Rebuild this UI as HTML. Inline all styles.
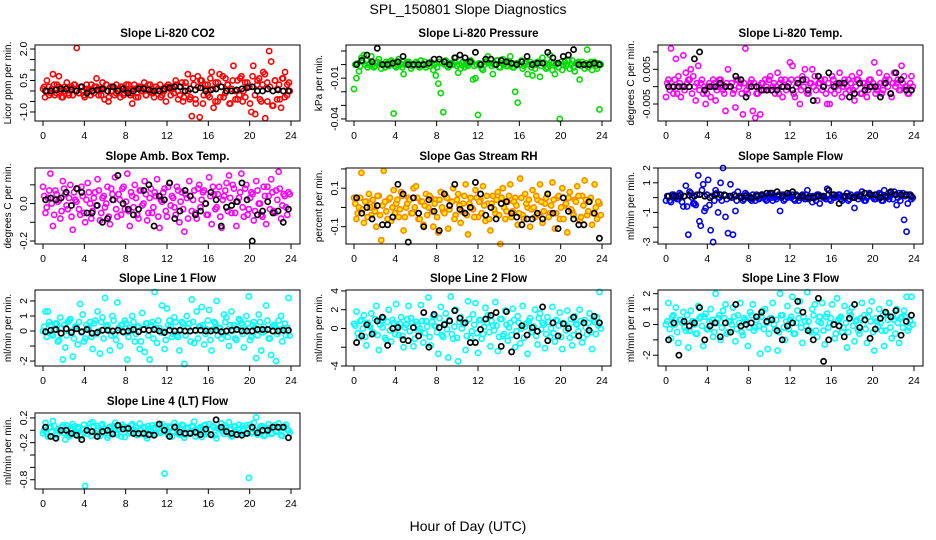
<!DOCTYPE html>
<html><head><meta charset="utf-8"><style>
html,body{margin:0;padding:0;background:#fff;}
svg{display:block;font-family:"Liberation Sans",sans-serif;}
</style></head><body>
<svg id="chart" width="936" height="540" viewBox="0 0 936 540" xmlns="http://www.w3.org/2000/svg">
<text x="468" y="14" text-anchor="middle" font-size="14">SPL_150801  Slope Diagnostics</text>
<text x="468" y="531" text-anchor="middle" font-size="14">Hour of Day (UTC)</text>
</svg>
<script>
const hourTicks = [0,4,8,12,16,20,24];
const co2Color = [0.1,-0.3,0.5,0.2,-0.1,0.8,-0.2,0.3,0.7,0.0,-0.3,0.2,0.4,-0.1,0.1,-0.2,0.3,2.05,-0.1,0.2,0.0,-0.3,0.3,0.1,-0.2,
0.0,0.2,0.6,-0.2,0.1,0.4,-0.4,0.3,-0.5,0.2,0.0,-0.2,0.3,0.1,-0.3,0.2,-0.1,0.3,0.0,-0.2,
-0.6,0.3,0.1,-0.3,0.2,0.0,0.4,-0.2,0.1,0.3,-0.1,-0.3,0.2,0.1,0.3,-0.2,0.0,-0.5,0.2,0.1,
0.2,-0.1,0.3,0.0,-0.2,0.4,-0.3,0.2,0.8,-0.4,-1.2,0.3,-0.6,0.7,-1.25,0.5,-0.2,0.1,0.3,-0.3,
0.9,-0.8,0.4,-0.5,0.8,0.2,-0.3,0.6,0.3,-0.6,0.1,1.2,-0.4,0.5,-0.2,0.7,0.0,-0.3,0.4,0.2,
-1.0,1.2,-1.1,0.3,0.6,-0.5,0.9,-1.3,0.4,1.9,1.4,-0.7,0.5,-0.4,0.3,-0.8,0.6,0.9,-0.2,0.4];
const co2Bulk = [0.2,0.0,-0.2,0.1,0.3,-0.1,0.2,-0.3,0.0,0.1,-0.2,0.2,0.3,0.0,-0.1,0.2,-0.2,0.1,0.0,0.3,
-0.1,0.2,0.0,-0.2,0.1,0.3,-0.3,0.0,0.2,-0.1,0.1,0.2,-0.2,0.0,0.3,-0.1,0.1,-0.3,0.2,0.0,
0.1,-0.2,0.3,0.0,-0.1,0.2,0.1,-0.3,0.0,0.2,0.3,-0.2,0.1,0.5,-0.4,0.2,-0.5,0.4,0.0,-0.3,
0.6,-0.4,0.2,0.5,-0.6,0.3,-0.2,0.6,0.1,-0.5,0.4,-0.3,0.7,-0.1,0.3,-0.6,0.5,0.0,-0.4,0.6,
-0.5,0.4,0.2,-0.6,0.7,-0.2,0.5,-0.4,0.3,0.8,-0.5,0.2,-0.7,0.5,0.1,-0.4,0.6,-0.3,0.3,0.0];
const co2Black = [0,0,0.05,0.1,0.1,0.05,0,0.2,-0.1,0,0.05,0.1,0,0.2,0,0.1,-0.1,0,0.1,0.1,0.05,0,0,0.1,0.15,0.2,0.2,0,0.1,0.05,0.15,0,0.05,0.1,0.2,0,0,0.05,0.1,0.15,0.2,0,0,0.1,0,0.05,0,0];
const presColor = [-0.018,-0.01,-0.005,0.005,0.007,0.003,0,0.006,-0.002,0.001,0.004,-0.003,0,0.002,-0.001,0.003,-0.036,-0.002,0.004,0,-0.007,0.001,0.002,-0.003,0,
0.002,-0.001,0.003,0,-0.002,0.001,0.002,-0.004,-0.008,-0.014,-0.021,-0.035,0.003,-0.002,0.001,0,0.005,-0.006,-0.003,0.002,0,-0.001,0.003,-0.011,-0.01,
-0.037,0,-0.004,0.002,0.006,0.001,-0.007,0,0.003,-0.002,0.004,0.001,-0.001,0.006,-0.002,-0.02,-0.028,0,-0.003,0.001,-0.007,0.002,-0.008,-0.003,0.002,
-0.009,0.005,0.001,-0.002,0.007,-0.004,-0.007,0.001,-0.04,-0.004,0.002,0,-0.003,0.003,-0.005,0.001,-0.011,0.002,-0.003,0.011,0.001,-0.004,0.002,-0.003,-0.033];
const presBulk = [0,0.001,-0.001,0.002,0,-0.002,0.001,0,-0.001,0.002,0.001,0,-0.002,0.001,0,0.002,-0.001,0,0.001,-0.002,
0,0.002,0.001,-0.001,0,0.001,-0.002,0,0.002,0,-0.001,0.001,0,-0.002,0.002,0.001,0,-0.001,0.001,0,
0.002,-0.001,0,0.001,-0.002,0,0.001,0.002,-0.001,0,0.001,-0.003,0,0.002,0.001,-0.001,0,0.003,-0.002,0.001,
0,-0.001,0.002,0,-0.002,0.001,0,0.003,-0.001,0.002,0,-0.002,0.001,0,0.002,-0.001,0.001,-0.003,0,0.002,
0.001,0,-0.002,0.002,0,-0.001,0.003,0,-0.002,0.001,0.002,-0.001,0,0.001,-0.002,0.002,0,-0.001,0.001,0];
const presBlack = [0,0.003,0.007,0.002,0.012,0,0,0.001,0.002,0.006,0,0,0,0,0.001,0.004,0.004,0.002,0,0.005,0.007,0.005,0.002,0.009,0,0.004,0.004,0,0.003,0.002,0.001,0,0.002,0.006,0,0.001,0.001,0.009,0.005,0.001,0.006,0.007,0.011,0,0,0,0.001,0];
const tempColor = [-0.003,0.002,0.011,-0.002,0.008,0.003,-0.003,0.009,0.004,0.002,0.005,0.003,-0.004,0.006,0.001,-0.002,-0.005,0,-0.003,0.002,-0.004,0,0.002,-0.001,-0.007,
0.005,0,-0.002,-0.006,0.002,0.001,-0.008,0.011,-0.002,0.001,-0.007,-0.009,-0.002,-0.008,0.001,0.002,-0.001,0.003,0,-0.002,0.004,0.001,-0.003,0.002,0,
0.007,0.006,-0.003,0.002,-0.005,0.003,0.005,-0.002,0.001,0.005,0.003,-0.004,0.001,-0.001,0.002,-0.005,-0.005,0.003,-0.002,0.001,0.004,-0.003,0.002,0,-0.001,
0.003,-0.004,0.002,0.004,-0.002,0.001,-0.003,0.002,0,0.007,-0.001,0.004,-0.002,0.001,0.003,0.002,-0.003,0.004,0.001,-0.001,0.006,0.003,0,-0.002,0.003];
const tempBulk = [0.001,-0.001,0,0.002,-0.002,0.001,0,-0.001,0.001,0.002,-0.002,0,0.001,-0.001,0.002,0,-0.002,0.001,0,0.001,
-0.001,0.002,0,-0.002,0.001,0,0.001,-0.001,0.002,0,-0.002,0.001,-0.001,0,0.002,0.001,-0.002,0,0.001,-0.001,
0,0.002,-0.001,0.001,0,-0.002,0.002,0,-0.001,0.001,0.002,-0.002,0,0.001,-0.001,0,0.002,-0.002,0.001,0,
-0.001,0.001,0.002,0,-0.002,0.001,-0.001,0.002,0,-0.001,0.001,0,-0.002,0.002,0.001,-0.001,0,0.002,-0.002,0.001,
0,-0.001,0.002,0.001,-0.002,0,0.001,-0.001,0.002,0,-0.002,0.001,0,0.002,-0.001,0.001,0,-0.002,0.001,0];
const tempBlack = [0,0,0,0,0,0.008,0.01,-0.001,0,0,0.001,0,0,0.003,0.002,-0.003,0,0,-0.001,-0.001,-0.001,-0.001,0,0,-0.001,0.001,0.002,-0.001,-0.004,0.003,0,0.004,0,0.001,0.001,-0.003,-0.002,0.001,-0.001,0,0,-0.003,0.001,-0.002,0.004,0.002,-0.001,-0.001];
const ambColor = [0.09,-0.05,0.03,0.16,-0.12,0.07,0.01,-0.08,0.12,0.05,-0.03,0.1,-0.14,0.02,0.08,-0.06,0.04,-0.1,0.11,0.0,-0.04,0.06,0.13,-0.09,0.03,
-0.02,0.09,-0.11,0.05,0.14,-0.07,0.02,0.08,-0.03,0.16,-0.12,0.04,0.1,-0.06,0.07,-0.01,0.12,-0.09,0.03,-0.05,0.06,0.13,-0.13,0.01,0.08,
-0.07,0.11,0.04,-0.02,0.09,-0.1,0.06,-0.15,0.03,0.12,-0.04,0.07,-0.08,0.1,0.02,0.07,-0.06,0.14,-0.11,0.05,-0.02,0.09,-0.13,0.04,0.11,
0.15,-0.05,0.08,-0.12,0.03,0.16,-0.07,0.1,-0.03,0.06,-0.09,0.12,0.0,-0.06,0.09,-0.11,0.04,0.13,-0.04,0.07,0.17,-0.08,0.05,-0.02,0.06];
const ambBulk = [0.04,-0.02,0.07,0.0,-0.06,0.05,0.02,-0.04,0.08,-0.01,0.03,-0.07,0.06,0.01,-0.03,0.09,-0.05,0.02,0.06,-0.08,
0.03,-0.01,0.07,-0.05,0.04,0.0,-0.07,0.08,0.02,-0.03,0.05,-0.06,0.09,0.01,-0.04,0.06,-0.02,0.03,-0.08,0.07,
0.0,0.05,-0.05,0.08,-0.02,0.04,-0.07,0.02,0.06,-0.04,0.09,-0.01,0.03,-0.06,0.07,0.01,-0.03,0.05,-0.08,0.04,
0.02,-0.05,0.08,-0.02,0.06,0.0,-0.06,0.04,0.09,-0.03,0.05,-0.07,0.02,0.07,-0.04,0.03,0.1,-0.05,0.01,0.06,
-0.02,0.08,-0.06,0.03,0.05,-0.04,0.07,0.0,-0.07,0.04,0.09,-0.03,0.06,-0.05,0.02,0.08,-0.01,0.04,-0.06,0.05];
const ambBlack = [0.02,0.03,0.02,0.03,0.06,-0.01,0.08,0.06,-0.05,-0.05,-0.01,-0.1,-0.08,0.02,0.15,0,-0.03,-0.06,-0.03,0.07,0.1,-0.12,0.04,0.02,0.11,-0.08,-0.04,0.07,0.04,-0.06,-0.04,0.0,0.06,0.02,-0.12,-0.02,-0.01,0.01,0.11,0.02,-0.2,-0.06,-0.04,0.01,-0.05,-0.04,-0.1,-0.03];
const rhColor = [0.05,-0.06,0.0,0.18,-0.08,0.03,0.07,-0.04,0.01,-0.1,0.06,-0.17,0.19,-0.02,0.04,-0.07,0.09,0.02,-0.05,0.08,-0.12,0.0,0.05,-0.03,0.1,
0.11,-0.06,0.03,-0.09,0.07,0.0,0.05,-0.1,0.04,-0.13,0.08,-0.02,0.06,-0.11,0.03,0.1,-0.04,0.07,-0.08,0.02,0.12,-0.14,0.05,-0.01,0.09,
-0.05,0.04,0.11,-0.07,0.02,-0.12,0.06,-0.03,0.08,-0.19,0.1,-0.06,0.03,0.12,-0.02,0.05,-0.09,0.15,-0.04,0.07,0.0,-0.1,0.09,-0.05,0.04,
0.12,-0.08,0.02,0.07,-0.03,0.13,-0.11,0.05,-0.06,0.1,0.01,-0.13,0.08,-0.02,0.04,0.11,-0.07,0.06,0.14,-0.04,0.03,-0.09,0.12,-0.06,0.02];
const rhBulk = [0.02,-0.03,0.05,-0.01,0.03,-0.05,0.0,0.04,-0.02,0.06,-0.04,0.01,0.03,-0.06,0.05,0.0,-0.03,0.04,-0.01,0.06,
-0.05,0.02,0.04,-0.03,0.0,0.05,-0.06,0.03,0.01,-0.04,0.06,-0.02,0.02,-0.05,0.04,0.0,-0.03,0.05,-0.01,0.03,
-0.06,0.04,0.01,-0.02,0.06,-0.04,0.02,0.0,-0.05,0.05,0.03,-0.03,0.01,0.06,-0.06,0.02,-0.01,0.04,-0.04,0.05,
0.0,-0.02,0.06,-0.05,0.03,0.01,-0.03,0.05,-0.06,0.02,0.04,-0.01,0.0,0.06,-0.04,0.03,-0.02,0.05,-0.05,0.01,
0.04,-0.03,0.06,0.0,-0.06,0.02,0.05,-0.01,-0.04,0.03,0.06,-0.05,0.01,0.04,-0.02,0.05,-0.03,0.0,0.03,-0.04];
const rhBlack = [0.05,-0.03,0.0,-0.06,0.01,-0.09,-0.09,-0.05,0.12,0.07,-0.18,0.05,-0.03,-0.1,0.04,-0.02,-0.12,0.07,0.01,0.12,-0.01,-0.03,0.0,0.13,0.07,-0.04,0.0,-0.06,0.02,0.03,-0.03,-0.05,-0.09,-0.06,-0.06,-0.03,-0.06,0.07,-0.03,-0.11,0.05,-0.02,-0.06,-0.09,-0.09,0.03,-0.03,-0.16];
const sampColor = [-0.2,0.1,-0.3,0.2,0,-0.1,0.2,-0.6,0.8,-2.5,0.3,-0.4,-0.5,1.5,-1.9,0.9,-0.7,1.2,-2.2,-3.0,0.5,-1.0,1.0,2.0,-1.3,-2.4,0.9,-2.5,-0.9,0.4,
0.1,-0.2,0.3,0,-0.1,0.2,-0.2,0.1,0,0.2,-0.1,0.1,0.3,-0.2,0,0.1,-0.9,0.2,-0.1,0,
0.1,0.2,-0.2,0.1,0,0.2,-0.1,0.5,0.1,-0.3,0,0.2,-0.4,0.1,0,0.6,-0.1,0.2,0,0.1,
0.2,-0.2,0.1,0.3,-0.1,0,-0.7,0.2,0.1,0.4,-0.2,0,0.3,0.1,-0.1,0.2,0.3,-0.2,0.5,0,
-0.1,0.2,0.4,-0.5,0.3,0.1,-1.5,-2.3,0.2,-0.1];
const sampBulk = [0.1,-0.2,0.2,0.0,-0.1,0.3,-0.3,0.1,-0.6,0.4,0.0,-0.4,0.2,-1.6,0.5,-0.9,0.2,-0.5,0.1,-0.2,
0.3,0.0,-0.2,0.2,-0.1,0.1,0.0,0.2,-0.2,0.1,0.0,-0.1,0.2,0.1,-0.2,0.0,0.2,-0.1,0.1,0.0,
-0.2,0.2,0.0,0.1,-0.1,0.2,0.0,-0.2,0.1,0.2,0.0,-0.1,0.2,-0.2,0.1,0.0,0.2,-0.1,0.0,0.1,
-0.2,0.2,0.1,0.0,-0.1,0.2,-0.2,0.0,0.1,0.2,-0.1,0.0,0.1,-0.2,0.2,0.0,0.1,-0.1,0.2,0.0,
-0.2,0.1,0.2,0.0,-0.1,0.1,0.2,-0.2,0.0,0.1,0.3,-0.1,0.2,0.0,-0.2,0.3,0.1,-0.4,0.2,0.0];
const sampBlack = [0.1,0.1,0.1,0.1,0.15,0.1,0.2,0.1,0.0,0.2,0.2,0.15,0.1,0.1,0.0,0.1,0.0,0.1,0.2,0.3,0.3,0.4,0.1,0.3,0.4,0.1,0.1,0.0,0.0,0.1,0.1,0.5,0.2,-0.4,0.1,0.1,0.0,0.1,0.3,0.2,0.2,0.0,0.1,0.4,0.2,0.2,0.2,0.1];
const l1Color = [0.0,1.3,1.3,0.4,-0.3,0.5,-0.7,0.9,-1.9,-1.1,0.6,0.8,-1.7,0.3,-0.9,1.8,1.1,-0.5,0.2,0.6,
-1.2,0.7,1.3,-1.5,0.9,2.2,0.4,-1.3,1.0,-0.2,1.9,-1.0,0.4,0.7,-1.9,0.2,1.0,-0.7,0.3,-1.2,
1.2,-1.4,0.5,-1.9,0.6,2.6,-0.8,0.2,1.7,-1.2,1.5,0.7,-0.4,0.9,-0.3,-1.3,0.6,-2.2,1.0,0.5,
2.1,-0.8,1.3,0.3,1.6,-0.9,0.1,1.4,-1.3,0.6,2.0,0.2,-0.5,1.1,0.9,-1.0,1.3,0.4,-0.6,0.8,
0.5,-1.1,1.0,2.3,-0.4,0.6,-1.8,1.1,-1.3,0.3,1.7,-0.5,-1.6,0.4,-2.0,0.7,1.0,0.2,-0.3,2.2];
const l1Bulk = [0.3,-0.4,0.6,-0.2,0.1,0.5,-0.6,0.2,0.4,-0.3,0.7,0.0,-0.5,0.3,0.6,-0.1,-0.7,0.4,0.2,-0.4,
0.5,-0.2,0.0,0.6,-0.5,0.3,0.1,-0.3,0.7,-0.6,0.2,0.4,-0.1,0.5,-0.4,0.0,0.6,-0.2,0.3,-0.7,
0.1,0.5,-0.3,0.4,-0.5,0.2,0.7,-0.1,0.0,-0.6,0.4,0.3,-0.2,0.6,-0.4,0.1,0.5,-0.3,0.2,-0.7,
0.6,0.0,-0.5,0.3,0.4,-0.2,0.7,-0.6,0.1,0.5,-0.3,0.2,-0.1,0.6,-0.4,0.4,0.0,-0.5,0.3,0.7,
-0.2,0.1,0.5,-0.6,0.4,0.2,-0.3,0.6,-0.1,0.0,0.7,-0.5,0.3,0.4,-0.2,0.1,-0.7,0.5,0.2,-0.3];
const l1Black = [-0.05,0.05,0.1,-0.15,0.15,-0.1,0.15,-0.05,0.1,-0.15,-0.1,0.05,0.05,0.0,0.05,-0.05,0.0,0.1,-0.05,0.1,0.05,0.1,0.0,-0.1,0.05,0.0,0.05,0.0,0.0,0.05,0.05,0.0,0.0,0.05,-0.05,0.0,0.05,0.1,0.0,0.0,0.0,0.1,0.1,0.1,0.0,0.0,0.05,0.05];
const l2Color = [0.5,1.8,-1.0,0.9,1.4,-1.8,0.3,1.6,-0.5,2.4,-2.3,0.8,1.1,-1.2,2.0,-1.4,0.6,2.6,-0.7,1.2,
-2.0,0.4,2.4,1.1,-1.9,0.7,-0.3,2.5,-1.5,0.8,3.3,-1.8,1.3,0.2,-2.7,2.3,-0.9,1.6,-3.1,3.4,
-1.1,2.0,-3.5,1.2,0.5,-2.3,2.9,-1.0,1.5,2.7,-2.6,0.9,-0.6,2.2,1.4,-1.9,0.3,2.8,-2.4,1.0,
-0.8,1.9,-1.3,0.6,2.1,-2.0,1.3,-1.6,2.4,0.2,-2.7,1.1,-0.4,2.0,-1.7,1.6,0.6,-2.1,1.2,-0.9,
2.3,-1.4,0.8,1.7,-2.2,0.5,1.9,-1.0,-1.8,1.3,0.4,2.0,-1.5,0.9,-0.6,1.6,-2.2,0.7,1.2,3.9];
const l2Bulk = [0.3,-0.5,0.8,0.0,-0.9,0.6,0.2,-0.4,1.0,-0.7,0.4,0.1,-1.0,0.7,-0.2,0.9,-0.6,0.3,0.5,-0.8,
0.1,1.0,-0.3,0.6,-1.1,0.4,0.0,0.8,-0.5,0.2,-0.9,0.7,0.3,-0.4,1.1,-0.7,0.5,-0.1,0.9,-0.6,
0.2,-1.0,0.7,0.0,0.5,-0.8,1.0,-0.3,0.4,-0.5,0.9,-1.1,0.2,0.6,-0.4,0.8,-0.2,0.3,-0.9,1.0,
-0.6,0.4,0.1,-0.7,0.9,-0.3,0.6,0.0,-1.0,0.5,0.8,-0.4,0.2,-0.8,1.1,-0.1,0.4,-0.6,0.7,0.0,
-0.5,0.9,0.3,-0.9,0.6,-0.2,0.2,1.0,-0.7,0.5,-0.3,0.8,-1.0,0.1,0.6,-0.4,0.9,-0.6,0.3,0.0];
const l2Black = [-1.5,-0.8,0.4,-0.6,0.8,1.2,-1.8,0.0,0.1,-1.2,-1.3,0.1,-0.8,1.7,-2.0,1.5,0.1,0.4,0.8,1.9,1.1,0.6,-1.5,-1.5,-0.1,1.0,1.4,1.7,-1.9,1.8,-2.5,-0.8,0.3,-0.7,0.1,-0.3,2.3,-1.3,0.6,-0.8,0.5,0.0,1.2,-0.8,0.6,-0.2,1.3,0.6];
const l3Color = [0.0,1.4,-0.9,0.6,1.1,-1.2,0.3,0.8,-0.4,-1.5,0.9,0.2,-0.6,1.2,0.5,-1.4,0.7,-0.3,1.0,-0.8,
2.0,0.4,-1.0,0.9,1.3,-0.5,0.2,1.1,-1.1,0.6,1.4,-0.7,0.3,-1.4,0.8,1.3,-0.2,0.5,-1.9,0.9,
1.0,-1.6,0.4,1.4,-0.3,-1.7,2.0,0.6,-1.0,1.2,0.3,1.8,-0.6,0.9,1.5,-1.2,0.2,2.1,-0.4,1.0,
1.3,-0.8,0.5,1.4,-1.3,0.7,0.1,1.3,-0.9,1.7,0.4,-0.5,1.2,-1.5,0.8,1.1,-1.1,0.3,-0.6,1.4,
0.6,-1.2,0.9,1.5,-1.7,0.2,1.0,-0.4,-1.4,0.7,1.4,-0.9,0.3,1.0,-1.2,0.5,0.9,1.8,-0.2,1.8];
const l3Bulk = [0.2,-0.3,0.5,0.0,-0.5,0.3,0.1,-0.2,0.6,-0.4,0.2,0.0,-0.6,0.4,-0.1,0.5,-0.3,0.2,0.3,-0.5,
0.1,0.6,-0.2,0.4,-0.6,0.2,0.0,0.5,-0.3,0.1,-0.5,0.4,0.2,-0.2,0.6,-0.4,0.3,-0.1,0.5,-0.3,
0.1,-0.6,0.4,0.0,0.3,-0.5,0.6,-0.2,0.2,-0.3,0.5,-0.6,0.1,0.4,-0.2,0.5,-0.1,0.2,-0.5,0.6,
-0.4,0.2,0.1,-0.4,0.5,-0.2,0.4,0.0,-0.6,0.3,0.5,-0.2,0.1,-0.5,0.6,-0.1,0.2,-0.4,0.4,0.0,
-0.3,0.5,0.2,-0.5,0.4,-0.1,0.1,0.6,-0.4,0.3,-0.2,0.5,-0.6,0.1,0.4,-0.2,0.5,-0.4,0.2,0.0];
const l3Black = [-1.0,0.1,-2.0,0.2,-0.1,0.1,1.1,-1.0,-0.1,0.1,-0.8,0.1,-0.5,1.3,-0.1,0.0,0.1,0.5,0.8,0.2,0.3,-0.4,-1.0,-0.1,0.1,1.5,0.8,-0.4,-1.0,1.7,-2.4,-1.0,0.0,-0.1,-0.8,0.4,1.3,-0.2,0.3,-0.9,-0.3,0.4,0.8,0.5,0.9,-0.7,0.2,0.6];
const l4Color = [-0.05,0.12,-0.1,0.05,0.15,-0.12,0.0,-0.02,0.08,-0.15,0.03,-0.08,0.1,-0.03,0.05,-0.1,0.02,-0.9,-0.06,0.11,0.13,-0.04,0.07,-0.09,0.1,
0.02,-0.12,0.06,-0.04,0.12,-0.07,0.03,0.09,-0.11,0.05,-0.02,0.1,0.0,-0.08,0.11,-0.05,0.04,-0.13,0.02,0.08,-0.06,0.09,-0.02,0.1,-0.7,
-0.04,0.06,-0.1,0.12,0.0,-0.07,0.09,-0.12,0.04,-0.03,0.07,0.14,-0.05,0.03,-0.11,0.08,-0.02,0.1,-0.08,0.05,-0.13,0.02,0.11,-0.06,0.04,
0.13,-0.1,0.06,-0.03,0.09,-0.07,0.02,0.08,-0.77,-0.05,0.12,0.21,-0.04,0.07,-0.09,0.03,0.1,-0.06,0.05,-0.02,0.11,-0.08,0.04,0.09,0.0];
const l4Bulk = [0.0,-0.06,0.04,-0.02,0.07,-0.08,0.02,0.05,-0.04,0.08,-0.1,0.01,0.06,-0.05,0.03,-0.07,0.09,-0.01,0.04,-0.09,
0.06,0.0,-0.06,0.08,-0.03,0.02,-0.08,0.05,0.07,-0.04,0.01,-0.1,0.06,0.03,-0.05,0.08,-0.02,0.04,-0.07,0.0,
0.05,-0.09,0.07,-0.01,0.03,-0.06,0.09,-0.04,0.02,0.06,-0.08,0.04,-0.02,0.07,-0.05,0.01,0.08,-0.07,0.03,-0.03,
0.06,-0.1,0.02,0.05,-0.04,0.09,-0.06,0.0,0.07,-0.08,0.03,0.04,-0.02,0.08,-0.05,0.01,-0.09,0.06,0.02,-0.04,
0.07,-0.06,0.03,0.09,-0.03,0.0,-0.07,0.05,0.06,-0.08,0.02,0.04,-0.05,0.08,-0.01,0.03,-0.09,0.06,0.01,-0.04];
const l4Black = [0.05,-0.1,-0.13,0.0,0.0,-0.05,-0.08,-0.15,0.0,-0.02,-0.1,-0.02,0.0,-0.06,0.08,0.02,0.03,-0.05,-0.05,-0.05,-0.07,-0.08,0.1,0.0,-0.1,0.05,-0.03,-0.05,-0.05,-0.03,-0.07,0.02,-0.07,0.17,0.05,-0.02,-0.05,-0.07,-0.08,-0.05,0.05,-0.04,0.0,0.0,0.05,0.05,0.05,-0.12];

const NS = "http://www.w3.org/2000/svg";
const svg = document.getElementById('chart');
function mk(tag, attrs, parent){ const e=document.createElementNS(NS,tag); for(const k in attrs) e.setAttribute(k,attrs[k]); (parent||svg).appendChild(e); return e; }

const cols = [35, 346, 658];
const rows = [45, 168, 290, 413];
const W = 265, H = 76;
const panels = [
 {key:'co2', title:'Slope Li-820 CO2', ylab:'Licor ppm per min.', c:0,r:0, yMin:-1.43,yMax:2.19, ticks:[-1,-0.5,0,0.5,1,1.5,2], labels:{'2':'2.0','0.5':'0.5','-1':'-1.0'}, color:'#ff0000', fill:'none', data:co2Color, bulk:co2Bulk, black:co2Black},
 {key:'pressure', title:'Slope Li-820 Pressure', ylab:'kPa per min.', c:1,r:0, yMin:-0.0415,yMax:0.0144, ticks:[0.01,0,-0.01,-0.02,-0.03,-0.04], labels:{'-0.01':'-0.01','-0.04':'-0.04'}, color:'#00dd00', fill:'none', data:presColor, bulk:presBulk, black:presBlack},
 {key:'temp', title:'Slope Li-820 Temp.', ylab:'degrees C per min.', c:2,r:0, yMin:-0.0099,yMax:0.012, ticks:[0.01,0.005,0,-0.005], labels:{'0.005':'0.005','-0.005':'-0.005'}, color:'#ff00ff', fill:'none', data:tempColor, bulk:tempBulk, black:tempBlack},
 {key:'ambbox', title:'Slope Amb. Box Temp.', ylab:'degrees C per min.', c:0,r:1, yMin:-0.216,yMax:0.19, ticks:[0.1,0,-0.1,-0.2], labels:{'0':'0.0','-0.2':'-0.2'}, color:'#ff00ff', fill:'none', data:ambColor, bulk:ambBulk, black:ambBlack},
 {key:'rh', title:'Slope Gas Stream RH', ylab:'percent per min.', c:1,r:1, yMin:-0.19,yMax:0.205, ticks:[0.2,0.1,0,-0.1], labels:{'0.1':'0.1','-0.1':'-0.1'}, color:'#ff8800', fill:'#ffee00', data:rhColor, bulk:rhBulk, black:rhBlack},
 {key:'sampleflow', title:'Slope Sample Flow', ylab:'ml/min per min.', c:2,r:1, yMin:-3.13,yMax:2.0, ticks:[2,1,0,-1,-2,-3], labels:{'2':'2','1':'1','-1':'-1','-3':'-3'}, color:'#0000ee', fill:'none', data:sampColor, bulk:sampBulk, black:sampBlack},
 {key:'line1', title:'Slope Line 1 Flow', ylab:'ml/min per min.', c:0,r:2, yMin:-2.33,yMax:2.73, ticks:[2,1,0,-1,-2], labels:{'2':'2','1':'1','0':'0','-2':'-2'}, color:'#00ffff', fill:'none', data:l1Color, bulk:l1Bulk, black:l1Black},
 {key:'line2', title:'Slope Line 2 Flow', ylab:'ml/min per min.', c:1,r:2, yMin:-4.0,yMax:4.1, ticks:[4,2,0,-2,-4], labels:{'4':'4','2':'2','0':'0','-4':'-4'}, color:'#00ffff', fill:'none', data:l2Color, bulk:l2Bulk, black:l2Black},
 {key:'line3', title:'Slope Line 3 Flow', ylab:'ml/min per min.', c:2,r:2, yMin:-2.7,yMax:2.24, ticks:[2,1,0,-1,-2], labels:{'2':'2','1':'1','0':'0','-2':'-2'}, color:'#00ffff', fill:'none', data:l3Color, bulk:l3Bulk, black:l3Black},
 {key:'line4', title:'Slope Line 4 (LT) Flow', ylab:'ml/min per min.', c:0,r:3, yMin:-0.95,yMax:0.28, ticks:[0.2,0,-0.2,-0.4,-0.6,-0.8], labels:{'0.2':'0.2','-0.2':'-0.2','-0.8':'-0.8'}, color:'#00ffff', fill:'none', data:l4Color, bulk:l4Bulk, black:l4Black}
];

panels.forEach(p=>{
  const bx = cols[p.c], by = rows[p.r];
  const g = mk('g',{});
  
  
  const xS = h => bx + 8 + h/24*(W-17);
  const yS = v => by + (p.yMax - v)/(p.yMax - p.yMin)*H;
  const t = mk('text',{x:bx+W/2, y:by-8, 'text-anchor':'middle','font-size':'11.5','font-weight':'bold'}, g);
  t.textContent = p.title;
  
  
  const yl = mk('text',{x:0,y:0,'text-anchor':'middle','font-size':'10',transform:`translate(${bx-24},${by+H/2}) rotate(-90)`}, g);
  yl.textContent = p.ylab;
  
  
  const pg = mk('g',{}, g);
  
  
  p.data.forEach((v,i)=>{
    const c = mk('circle',{cx:xS(i*24/p.data.length), cy:yS(v), r:2.6, fill:p.fill, stroke:p.color,'stroke-width':1.6}, pg);
    
    
  });
  p.bulk.forEach((v,i)=>{
    const c = mk('circle',{cx:xS((i+0.5)*24/p.bulk.length), cy:yS(v), r:2.6, fill:p.fill, stroke:p.color,'stroke-width':1.6}, pg);
    
    
  });
  const kg = mk('g',{}, g);
  
  
  p.black.forEach((v,i)=>{
    const c = mk('circle',{cx:xS((i+0.5)*24/p.black.length), cy:yS(v), r:2.6, fill:'none', stroke:'#000','stroke-width':1.7}, kg);
    
    
  });
  const box = mk('rect',{x:bx,y:by,width:W,height:H,fill:'none',stroke:'#000','stroke-width':1}, g);
  
  
  const xa = mk('g',{}, g);
  
  
  hourTicks.forEach(h=>{
    mk('line',{x1:xS(h),x2:xS(h),y1:by+H,y2:by+H+5,stroke:'#000'}, xa);
    const tl = mk('text',{x:xS(h),y:by+H+18,'text-anchor':'middle','font-size':'10.5'}, xa);
    tl.textContent = h;
    
    
  });
  const ya = mk('g',{}, g);
  
  
  p.ticks.forEach(v=>{
    const y = yS(v);
    mk('line',{x1:bx-5,x2:bx,y1:y,y2:y,stroke:'#000'}, ya);
    const lab = p.labels[String(v)];
    if(lab){
      const tl = mk('text',{x:0,y:0,'text-anchor':'middle','font-size':'10.5',transform:`translate(${bx-8},${y}) rotate(-90)`}, ya);
      tl.textContent = lab;
      
      
    }
  });
});
</script>
</body></html>
